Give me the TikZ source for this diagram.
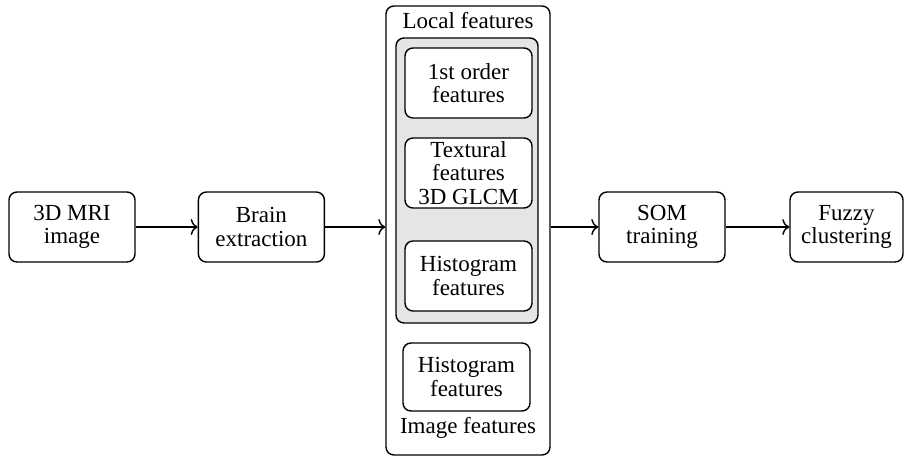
\documentclass[tikz,border=0pt]{standalone}
\usepackage{fontspec}
\setmainfont{Liberation Serif}
\usetikzlibrary{positioning, arrows.meta}

\begin{document}
\begin{tikzpicture}[x=1pt, y=1pt, node distance=31pt, line width=0.7pt,
  every node/.style={font=\fontsize{11.5}{11.7}\selectfont},
  stage/.style={draw, fill=white, rounded corners=4pt, minimum width=63pt, minimum height=35pt, align=center, inner sep=1pt},
  group/.style={draw, rounded corners=4pt},
  flow/.style={-{To[length=3.5pt, width=8pt]}}]
\useasboundingbox (0,0) rectangle (452,-228);
\node[stage] (mri) at (36,-113.5) {3D MRI\\ image};
\node[stage, right=of mri] (brain) {Brain\\ extraction};
% feature block
\node[group, minimum width=82pt, minimum height=224.5pt] (feat) at (234,-115.25) {};
\node[group, fill=black!10, minimum width=71pt, minimum height=142.5pt] (local) at (233.5,-90.25) {};
\node at (234,-10.5) (loclab) {Local features};
\node[stage, minimum width=63.5pt] (first) at (234.25,-41.5) {1st order\\ features};
\node[stage, minimum width=63.5pt] (tex) at (234.25,-86.5) {Textural\\ features\\ 3D GLCM};
\node[stage, minimum width=63.5pt] (hist) at (234.25,-138) {Histogram\\ features};
\node[stage, minimum width=63.5pt, minimum height=34pt] (ihist) at (233.25,-188.5) {Histogram\\ features};
\node at (234,-214) (imglab) {Image features};
\node[stage] (som) at (331,-113.5) {SOM\\ training};
\node[stage, minimum width=56.5pt] (fuzzy) at (423.25,-113.5) {Fuzzy\\ clustering};
\draw[flow] (mri) -- (brain);
\draw[flow] (brain.east) -- (brain.east -| feat.west);
\draw[flow] (som.west -| feat.east) -- (som.west);
\draw[flow] (som) -- (fuzzy);
\end{tikzpicture}
\end{document}
